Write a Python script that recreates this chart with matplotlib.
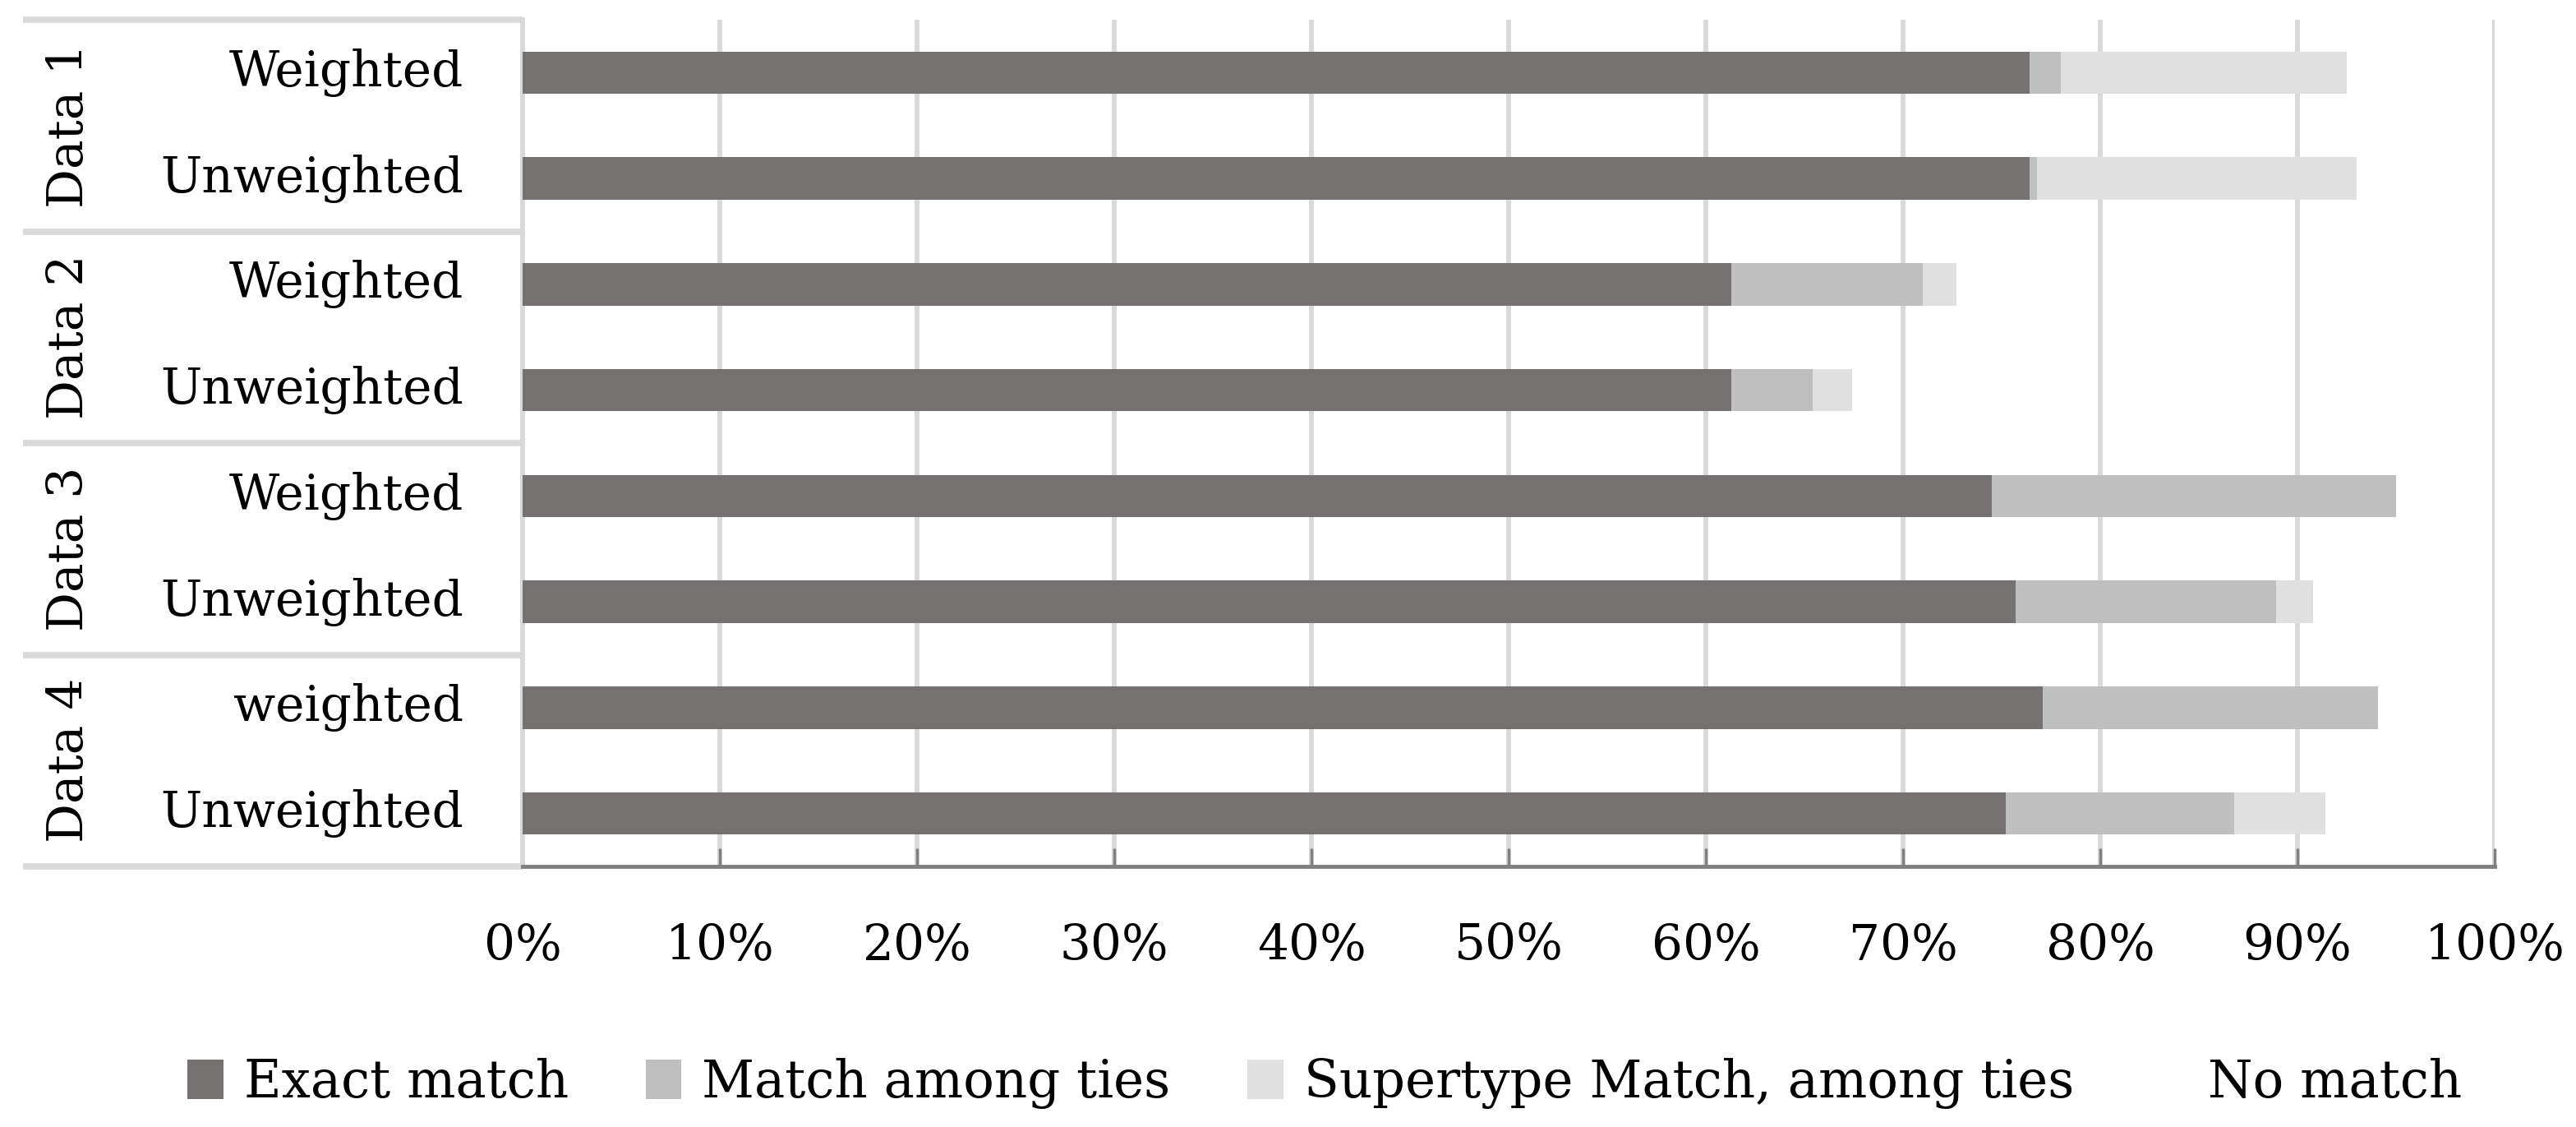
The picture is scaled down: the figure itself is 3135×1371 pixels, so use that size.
import matplotlib
matplotlib.use("Agg")
import matplotlib.pyplot as plt
from matplotlib.patches import Patch
import matplotlib.transforms as mtransforms

# ---- data ----
groups = ["Data 1", "Data 2", "Data 3", "Data 4"]
row_labels = ["Weighted", "Unweighted", "Weighted", "Unweighted",
              "Weighted", "Unweighted", "weighted", "Unweighted"]
exact_match = [76.4, 76.4, 61.3, 61.3, 74.5, 75.7, 77.1, 75.2]
match_among_ties = [1.6, 0.4, 9.7, 4.1, 20.5, 13.2, 17.0, 11.6]
supertype_match = [14.5, 16.2, 1.7, 2.0, 0.0, 1.9, 0.0, 4.6]
no_match = [100 - a - b - c for a, b, c in zip(exact_match, match_among_ties, supertype_match)]
series_names = ["Exact match", "Match among ties", "Supertype Match, among ties", "No match"]
xticks = [0, 10, 20, 30, 40, 50, 60, 70, 80, 90, 100]
xtick_labels = [f"{t}%" for t in xticks]

colors = ["#767171", "#bfbfbf", "#e0e0e0", "none"]
grid_c = "#d9d9d9"
axis_c = "#808080"

plt.rcParams['font.family'] = ['DejaVu Serif']
FS = 43

W, H = 3135, 1371
fig = plt.figure(figsize=(W / 100, H / 100), dpi=100)
x0, x1 = 636, 3036
y_top, y_bot = 24, 1054
ax = fig.add_axes([x0 / W, (H - y_bot) / H, (x1 - x0) / W, (y_bot - y_top) / H])

ypos = list(range(len(row_labels)))
left = [0] * len(ypos)
for vals, col in zip([exact_match, match_among_ties, supertype_match, no_match], colors):
    ax.barh(ypos, vals, left=left, height=0.4, color=col, edgecolor='none', zorder=3)
    left = [l + v for l, v in zip(left, vals)]

ax.set_xlim(0, 100)
ax.set_ylim(len(ypos) - 0.5, -0.5)
ax.set_xticks(xticks)
ax.set_xticklabels(xtick_labels, fontsize=FS)
ax.set_yticks([])
ax.xaxis.grid(True, color=grid_c, lw=4.3, zorder=0)
ax.set_axisbelow(True)
ax.tick_params(axis='x', direction='in', length=16, width=2.5, color=axis_c, pad=48)
for s in ["top", "right"]:
    ax.spines[s].set_visible(False)
ax.spines["bottom"].set_color(axis_c)
ax.spines["bottom"].set_linewidth(3.5)
ax.spines["bottom"].set_zorder(5)
ax.spines["left"].set_color(grid_c)
ax.spines["left"].set_linewidth(4.3)

trans = mtransforms.blended_transform_factory(ax.transAxes, ax.transData)
xl = (28 - x0) / (x1 - x0)
for b in [-0.5, 1.5, 3.5, 5.5, 7.5]:
    ax.plot([xl, 0], [b, b], transform=trans, color=grid_c, lw=5.5,
            clip_on=False, solid_capstyle='butt', zorder=1)

for i, lab in enumerate(row_labels):
    ax.text((564 - x0) / (x1 - x0), i, lab, transform=trans, ha='right', va='center',
            fontsize=FS)
for g, name in enumerate(groups):
    ax.text((84 - x0) / (x1 - x0), 2 * g + 0.5, name, transform=trans, ha='center',
            va='center', rotation=90, fontsize=FS)

handles = [Patch(facecolor=c, edgecolor='none') for c in colors]
fig.legend(handles, series_names, loc='center', bbox_to_anchor=(1612 / W, 53 / H),
           ncol=4, frameon=False, fontsize=45, handlelength=0.7, handleheight=0.8,
           handletextpad=0.4, columnspacing=1.5)

fig.savefig("out.png", dpi=100, facecolor="white")
